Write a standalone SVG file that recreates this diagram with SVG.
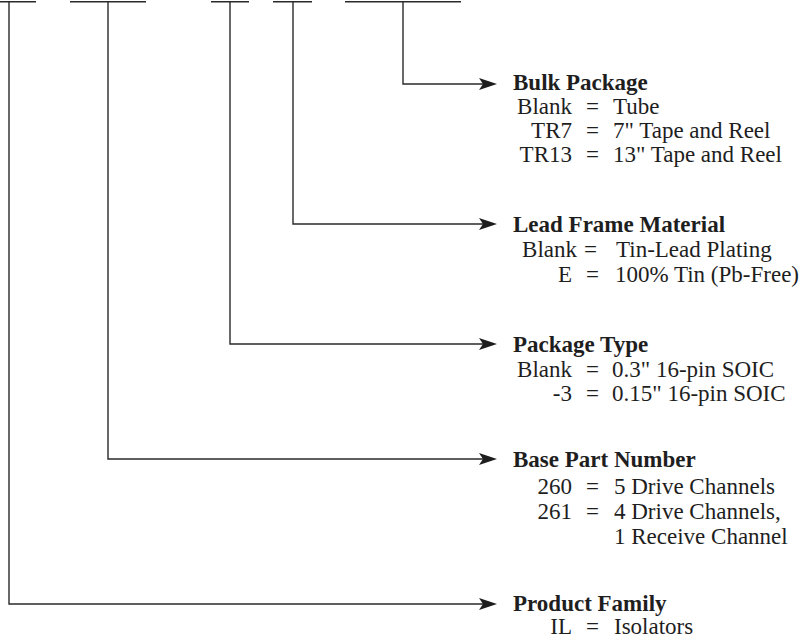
<svg xmlns="http://www.w3.org/2000/svg" width="804" height="644" viewBox="0 0 804 644">
<style>
.ln{fill:none;stroke:#2a2a2a;stroke-width:1.4}
.ah{fill:#1e1e1e;stroke:none}
text{font-family:"Liberation Serif","Times New Roman",serif;font-size:23px;fill:#1e1e1e}
.t{font-weight:bold}
.r{text-anchor:end}
</style>
<rect width="804" height="644" fill="#fff"/>
<g id="part-number-slots" class="ln">
<line x1="0" y1="1.7" x2="36" y2="1.7"/>
<line x1="70" y1="1.7" x2="146" y2="1.7"/>
<line x1="211" y1="1.7" x2="249" y2="1.7"/>
<line x1="273" y1="1.7" x2="312" y2="1.7"/>
<line x1="345" y1="1.7" x2="461" y2="1.7"/>
</g>
<g id="connectors">
<path class="ln" d="M403,1.7 V84 H484"/>
<path class="ah" d="M497,84 L479,78 L483,84 L479,90 Z"/>
<path class="ln" d="M293,1.7 V224 H484"/>
<path class="ah" d="M497,224 L479,218 L483,224 L479,230 Z"/>
<path class="ln" d="M230,1.7 V344 H484"/>
<path class="ah" d="M497,344 L479,338 L483,344 L479,350 Z"/>
<path class="ln" d="M108,1.7 V459 H484"/>
<path class="ah" d="M497,459 L479,453 L483,459 L479,465 Z"/>
<path class="ln" d="M9,1.7 V604 H484"/>
<path class="ah" d="M497,604 L479,598 L483,604 L479,610 Z"/>
</g>
<g id="bulk-package">
<text class="t" x="513" y="90">Bulk Package</text>
<text class="r" x="572" y="114">Blank</text><text x="586" y="114">=</text><text x="613" y="114">Tube</text>
<text class="r" x="572" y="138">TR7</text><text x="586" y="138">=</text><text x="613" y="138">7" Tape and Reel</text>
<text class="r" x="572" y="162">TR13</text><text x="586" y="162">=</text><text x="613" y="162">13" Tape and Reel</text>
</g>
<g id="lead-frame-material">
<text class="t" x="513" y="232">Lead Frame Material</text>
<text class="r" x="577" y="257">Blank</text><text x="584" y="257">=</text><text x="616" y="257">Tin-Lead Plating</text>
<text class="r" x="572" y="282">E</text><text x="586" y="282">=</text><text x="615" y="282">100% Tin (Pb-Free)</text>
</g>
<g id="package-type">
<text class="t" x="513" y="352">Package Type</text>
<text class="r" x="572" y="377">Blank</text><text x="586" y="377">=</text><text x="612" y="377">0.3" 16-pin SOIC</text>
<text class="r" x="572" y="401">-3</text><text x="586" y="401">=</text><text x="612" y="401">0.15" 16-pin SOIC</text>
</g>
<g id="base-part-number">
<text class="t" x="513" y="467">Base Part Number</text>
<text class="r" x="572" y="494">260</text><text x="586" y="494">=</text><text x="614" y="494">5 Drive Channels</text>
<text class="r" x="572" y="519">261</text><text x="586" y="519">=</text><text x="614" y="519">4 Drive Channels,</text>
<text x="614" y="544">1 Receive Channel</text>
</g>
<g id="product-family">
<text class="t" x="513" y="611">Product Family</text>
<text class="r" x="572" y="634">IL</text><text x="586" y="634">=</text><text x="614" y="634">Isolators</text>
</g>
</svg>
